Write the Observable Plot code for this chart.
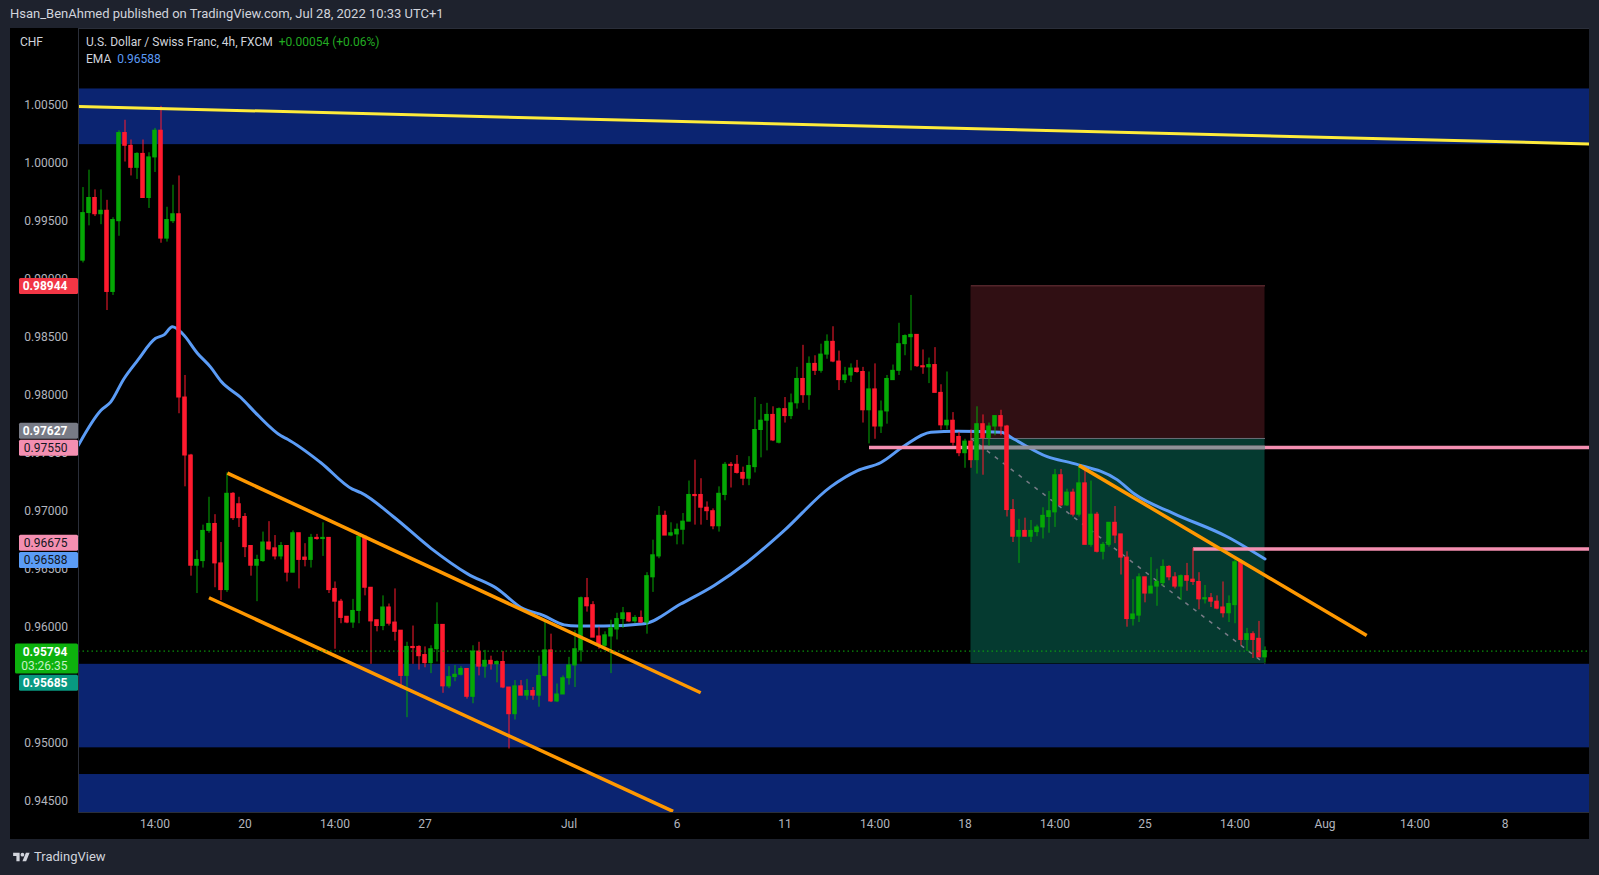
<!DOCTYPE html>
<html><head><meta charset="utf-8">
<script src="https://cdn.jsdelivr.net/npm/d3@7"></script>
<script src="https://cdn.jsdelivr.net/npm/@observablehq/plot@0.6"></script>
<style>
body{margin:0;background:#1e222d;font-family:Roboto,"Noto Sans",sans-serif;}
#wrap{position:relative;width:1599px;height:875px;overflow:hidden;background:#1e222d;}
#hdr{position:absolute;left:10px;top:6px;color:#d1d4dc;font-size:13px;line-height:16px;white-space:nowrap;}
#chart{position:absolute;left:10px;top:28px;width:1579px;height:811px;}
.leg{position:absolute;color:#d1d4dc;font-size:12px;line-height:14px;white-space:nowrap;}
#foot{position:absolute;left:13px;top:849px;color:#d1d4dc;font-size:13px;line-height:16px;display:flex;align-items:center;gap:4px;}
</style></head>
<body>
<div id="wrap">
  <div id="hdr">Hsan_BenAhmed published on TradingView.com, Jul 28, 2022 10:33 UTC+1</div>
  <div id="chart"></div>
  <div class="leg" style="left:20px;top:35px;">CHF</div>
  <div class="leg" style="left:86px;top:35px;">U.S. Dollar / Swiss Franc, 4h, FXCM&nbsp; <span style="color:#22ab22">+0.00054 (+0.06%)</span></div>
  <div class="leg" style="left:86px;top:52px;">EMA&nbsp; <span style="color:#5b9cf6">0.96588</span></div>
  <div id="foot"><svg width="17" height="13" viewBox="0 0 36 28"><path d="M14 22H7V11H0V4h14v18zM28 22h-8l7.5-18h8L28 22z" fill="#d1d4dc"/><circle cx="20" cy="8" r="4" fill="#d1d4dc"/></svg><span>TradingView</span></div>
</div>
<script>
// ---- candle data (4h bars, index -1 .. 197) ----
const firstIndex = -1;
const opens = [
0.9914,0.9916,0.9957,0.9970,0.9956,0.9959,0.9889,0.9950,1.0026,1.0015,
0.9996,1.0008,0.9970,1.0005,1.0028,0.9935,0.9950,0.9956,0.9798,0.9748,
0.9653,0.9657,0.9683,0.9689,0.9655,0.9632,0.9715,0.9706,0.9695,0.9670,
0.9653,0.9657,0.9673,0.9668,0.9661,0.9670,0.9647,0.9681,0.9660,0.9658,
0.9677,0.9676,0.9677,0.9633,0.9622,0.9609,0.9604,0.9614,0.9678,0.9634,
0.9606,0.9601,0.9617,0.9604,0.9597,0.9558,0.9583,0.9583,0.9576,0.9569,
0.9581,0.9602,0.9549,0.9557,0.9559,0.9564,0.9540,0.9579,0.9566,0.9571,
0.9568,0.9570,0.9548,0.9525,0.9549,0.9541,0.9545,0.9541,0.9558,0.9580,
0.9536,0.9542,0.9556,0.9567,0.9580,0.9625,0.9619,0.9592,0.9584,0.9592,
0.9598,0.9607,0.9612,0.9605,0.9608,0.9604,0.9643,0.9661,0.9696,0.9679,
0.9680,0.9684,0.9691,0.9714,0.9714,0.9703,0.9700,0.9687,0.9714,0.9740,
0.9740,0.9733,0.9728,0.9738,0.9770,0.9778,0.9783,0.9759,0.9788,0.9782,
0.9793,0.9814,0.9800,0.9827,0.9821,0.9835,0.9846,0.9829,0.9813,0.9817,
0.9823,0.9820,0.9787,0.9805,0.9773,0.9786,0.9813,0.9821,0.9844,0.9850,
0.9852,0.9825,0.9824,0.9826,0.9802,0.9774,0.9778,0.9764,0.9750,0.9760,
0.9744,0.9775,0.9763,0.9773,0.9782,0.9773,0.9701,0.9678,0.9683,0.9678,
0.9682,0.9686,0.9695,0.9699,0.9731,0.9705,0.9716,0.9697,0.9724,0.9671,
0.9697,0.9665,0.9671,0.9690,0.9680,0.9660,0.9607,0.9610,0.9643,0.9629,
0.9635,0.9638,0.9652,0.9643,0.9635,0.9644,0.9641,0.9639,0.9624,0.9625,
0.9622,0.9617,0.9612,0.9619,0.9656,0.9589,0.9594,0.9590,0.9574];
const highs = [
0.9917,0.9979,0.9994,0.9977,0.9977,0.9968,0.9953,1.0028,1.0037,1.0020,
1.0009,1.0020,1.0009,1.0030,1.0049,0.9962,0.9981,0.9989,0.9817,0.9749,
0.9666,0.9688,0.9712,0.9697,0.9673,0.9733,0.9716,0.9712,0.9698,0.9670,
0.9662,0.9682,0.9691,0.9679,0.9673,0.9670,0.9683,0.9681,0.9672,0.9680,
0.9680,0.9690,0.9677,0.9639,0.9624,0.9609,0.9624,0.9679,0.9678,0.9634,
0.9606,0.9627,0.9620,0.9633,0.9597,0.9587,0.9601,0.9584,0.9583,0.9584,
0.9621,0.9602,0.9566,0.9567,0.9566,0.9564,0.9584,0.9587,0.9580,0.9575,
0.9571,0.9579,0.9548,0.9554,0.9554,0.9555,0.9548,0.9575,0.9606,0.9594,
0.9551,0.9558,0.9574,0.9597,0.9626,0.9642,0.9622,0.9600,0.9596,0.9606,
0.9612,0.9617,0.9612,0.9610,0.9614,0.9647,0.9675,0.9704,0.9700,0.9690,
0.9689,0.9698,0.9726,0.9744,0.9728,0.9708,0.9702,0.9721,0.9742,0.9742,
0.9748,0.9738,0.9747,0.9798,0.9792,0.9793,0.9790,0.9789,0.9798,0.9801,
0.9824,0.9843,0.9833,0.9834,0.9844,0.9852,0.9859,0.9838,0.9824,0.9827,
0.9830,0.9824,0.9820,0.9827,0.9795,0.9817,0.9826,0.9862,0.9852,0.9886,
0.9852,0.9839,0.9832,0.9841,0.9809,0.9820,0.9785,0.9768,0.9762,0.9770,
0.9790,0.9783,0.9776,0.9782,0.9787,0.9774,0.9710,0.9693,0.9694,0.9692,
0.9688,0.9703,0.9717,0.9736,0.9736,0.9719,0.9719,0.9739,0.9735,0.9726,
0.9699,0.9673,0.9690,0.9704,0.9680,0.9665,0.9641,0.9646,0.9643,0.9660,
0.9650,0.9658,0.9653,0.9647,0.9645,0.9655,0.9668,0.9647,0.9636,0.9629,
0.9627,0.9639,0.9627,0.9660,0.9658,0.9599,0.9596,0.9605,0.9583];
const lows = [
0.9913,0.9914,0.9946,0.9954,0.9947,0.9873,0.9886,0.9937,1.0001,0.9989,
0.9986,0.9970,0.9961,0.9992,0.9931,0.9932,0.9948,0.9784,0.9721,0.9644,
0.9629,0.9651,0.9681,0.9634,0.9623,0.9630,0.9692,0.9686,0.9660,0.9644,
0.9622,0.9656,0.9666,0.9658,0.9658,0.9639,0.9647,0.9633,0.9652,0.9651,
0.9675,0.9661,0.9629,0.9581,0.9603,0.9603,0.9599,0.9603,0.9627,0.9568,
0.9596,0.9597,0.9601,0.9588,0.9547,0.9522,0.9568,0.9563,0.9565,0.9560,
0.9570,0.9543,0.9547,0.9553,0.9558,0.9538,0.9534,0.9558,0.9556,0.9563,
0.9552,0.9547,0.9495,0.9520,0.9541,0.9537,0.9537,0.9531,0.9557,0.9535,
0.9535,0.9542,0.9550,0.9548,0.9570,0.9613,0.9591,0.9581,0.9580,0.9560,
0.9589,0.9599,0.9604,0.9603,0.9603,0.9594,0.9630,0.9659,0.9679,0.9678,
0.9671,0.9671,0.9691,0.9688,0.9688,0.9692,0.9684,0.9682,0.9709,0.9720,
0.9732,0.9722,0.9722,0.9733,0.9746,0.9752,0.9760,0.9758,0.9776,0.9779,
0.9788,0.9793,0.9787,0.9817,0.9819,0.9831,0.9828,0.9804,0.9810,0.9811,
0.9819,0.9776,0.9758,0.9762,0.9767,0.9775,0.9813,0.9817,0.9834,0.9821,
0.9824,0.9818,0.9810,0.9802,0.9770,0.9770,0.9756,0.9747,0.9737,0.9737,
0.9732,0.9731,0.9756,0.9765,0.9765,0.9695,0.9673,0.9655,0.9678,0.9673,
0.9678,0.9676,0.9681,0.9686,0.9704,0.9704,0.9695,0.9695,0.9671,0.9669,
0.9664,0.9658,0.9669,0.9672,0.9645,0.9600,0.9601,0.9604,0.9621,0.9629,
0.9618,0.9635,0.9640,0.9633,0.9623,0.9631,0.9636,0.9615,0.9620,0.9617,
0.9615,0.9608,0.9604,0.9603,0.9584,0.9579,0.9573,0.9574,0.9569];
const closes = [
0.9916,0.9957,0.9970,0.9956,0.9959,0.9889,0.9951,1.0026,1.0015,0.9996,
1.0008,0.9970,1.0005,1.0028,0.9935,0.9951,0.9956,0.9798,0.9748,0.9653,
0.9658,0.9683,0.9689,0.9655,0.9632,0.9715,0.9694,0.9694,0.9669,0.9653,
0.9658,0.9673,0.9667,0.9661,0.9670,0.9647,0.9681,0.9658,0.9658,0.9677,
0.9676,0.9677,0.9632,0.9622,0.9608,0.9604,0.9614,0.9678,0.9634,0.9605,
0.9601,0.9617,0.9603,0.9596,0.9558,0.9583,0.9582,0.9575,0.9569,0.9581,
0.9602,0.9549,0.9557,0.9559,0.9564,0.9540,0.9579,0.9566,0.9571,0.9568,
0.9570,0.9548,0.9525,0.9549,0.9541,0.9545,0.9541,0.9558,0.9580,0.9536,
0.9542,0.9556,0.9567,0.9581,0.9625,0.9618,0.9591,0.9584,0.9593,0.9599,
0.9607,0.9612,0.9605,0.9608,0.9604,0.9644,0.9662,0.9696,0.9679,0.9681,
0.9684,0.9691,0.9714,0.9713,0.9703,0.9700,0.9687,0.9715,0.9740,0.9739,
0.9733,0.9728,0.9739,0.9770,0.9778,0.9783,0.9761,0.9788,0.9782,0.9793,
0.9814,0.9800,0.9827,0.9821,0.9835,0.9846,0.9829,0.9813,0.9817,0.9823,
0.9820,0.9787,0.9805,0.9773,0.9786,0.9814,0.9821,0.9844,0.9851,0.9852,
0.9825,0.9824,0.9826,0.9802,0.9774,0.9778,0.9759,0.9750,0.9760,0.9744,
0.9775,0.9763,0.9773,0.9782,0.9773,0.9701,0.9678,0.9683,0.9678,0.9683,
0.9686,0.9696,0.9700,0.9731,0.9705,0.9716,0.9697,0.9724,0.9671,0.9697,
0.9665,0.9671,0.9690,0.9679,0.9660,0.9607,0.9611,0.9643,0.9629,0.9635,
0.9639,0.9652,0.9643,0.9635,0.9644,0.9640,0.9639,0.9624,0.9625,0.9622,
0.9616,0.9612,0.9620,0.9656,0.9589,0.9594,0.9589,0.9574,0.95794];

// ---- EMA ----
const emaIdx = [-0.75,3,4.6,6.8,9.1,12.1,13.5,14.9,16.6,19.1,21.3,23,26.3,29.1,33,34.1,39.6,44.9,46.3,51.8,58,64.1,69.1,73,76.8,80.2,82.4,86.8,93.5,99.6,105.2,110.7,116.8,124.6,129.1,133,136.8,141.3,145.7,153,155.2,160.7,165.2,172.4,175.2,181.8,190.7,197];
const emaVals = [0.9757,0.9787,0.9794,0.9814,0.9830,0.9849,0.9852,0.9859,0.9853,0.9836,0.9824,0.9812,0.9798,0.9783,0.9765,0.9762,0.9742,0.9719,0.9716,0.9695,0.9668,0.9646,0.9633,0.9617,0.9610,0.9602,0.9601,0.9601,0.9603,0.9620,0.9636,0.9656,0.9683,0.9721,0.9735,0.9742,0.9756,0.9768,0.9769,0.9768,0.9762,0.9747,0.9741,0.9727,0.9715,0.9698,0.9678,0.96588];

// ---- axis ticks ----
const yTicks = [0.945,0.95,0.955,0.96,0.965,0.97,0.975,0.98,0.985,0.99,0.995,1.0,1.005];
const xTickPos = [12,27,42,57,81,99,117,132,147,162,177,192,207,222,237];
const xTickLabels = ["14:00","20","14:00","27","Jul","6","11","14:00","18","14:00","25","14:00","Aug","14:00","8"];

// ---- zones (blue rectangles) ----
const zoneTop = [1.0064, 0.9568, 0.9473];
const zoneBottom = [1.0016, 0.9496, 0.9440];

// ---- trend lines ----
const yellowLine = [{x1:-0.75, y1:1.00489, x2:251.08, y2:1.00166}];
const orangeLines = [
  {x1:24.07, y1:0.97328, x2:102.95, y2:0.95435},
  {x1:21.0, y1:0.96254, x2:98.35, y2:0.94412},
  {x1:166.0, y1:0.97395, x2:213.95, y2:0.95929}
];
const pinkLevels = [0.97550, 0.96675];
const pinkStarts = [131, 185];
const lineEnd = 251.08;

// ---- short position tool ----
const posStart = 148, posEnd = 197;
const posEntry = 0.97627, posStop = 0.98944, posTarget = 0.95685;
const lastPrice = 0.95794;

// ---- price tags ----
const tagPrices = [0.98944, 0.97627, 0.97550, 0.96675, 0.96588, 0.95685, 0.95794];
const tagColors = ["#f23645","#787b86","#f48fb1","#f48fb1","#5b9cf6","#089981","#0db10d"];
const tagText   = ["#ffffff","#ffffff","#131722","#131722","#131722","#ffffff","#ffffff"];
const tagShift  = [0.8, -7.3, 0.8, -5.7, 1.5, 19.5, 1];
const tagWidth  = [59, 59, 59, 59, 59, 59, 63];
const countdown = "03:26:35";

const candles = opens.map((o, k) => ({i: firstIndex + k, o, h: highs[k], l: lows[k], c: closes[k]}));
const upC = candles.filter(d => d.c >= d.o);
const dnC = candles.filter(d => d.c < d.o);
const UP = "#05a805", DN = "#ff1a2e";
const ema = emaIdx.map((x, k) => ({x, y: emaVals[k]}));
const zones = zoneTop.map((t, k) => ({t, b: zoneBottom[k]}));
const pinks = pinkLevels.map((p, k) => ({p, s: pinkStarts[k]}));
const xLabel = new Map(xTickPos.map((p, k) => [p, xTickLabels[k]]));

function tagsMark(index, scales, values, dimensions) {
  const g = d3.create("svg:g").attr("font-size", 12).attr("font-family", "Roboto, sans-serif");
  const ml = dimensions.marginLeft;
  tagPrices.forEach((p, k) => {
    const yc = scales.y(p) + tagShift[k];
    const isLast = p === lastPrice;
    const h = isLast ? 30 : 16;
    g.append("rect").attr("x", ml - tagWidth[k]).attr("y", yc - 8).attr("width", tagWidth[k]).attr("height", h)
      .attr("fill", tagColors[k]).attr("rx", 1.5);
    g.append("text").attr("x", ml - 10.5).attr("y", yc).attr("dy", "0.35em").attr("text-anchor", "end")
      .attr("fill", tagText[k]).attr("font-weight", tagText[k] === "#ffffff" ? "bold" : null).text(d3.format(".5f")(p));
    if (isLast) {
      g.append("text").attr("x", ml - 10.5).attr("y", yc + 14).attr("dy", "0.35em").attr("text-anchor", "end")
        .attr("fill", "#c4f2c4").text(countdown);
    }
  });
  return g.node();
}

const chart = Plot.plot({
  width: 1579, height: 811,
  marginLeft: 68, marginRight: 0, marginTop: 0, marginBottom: 27,
  style: {background: "#000000", color: "#b2b5be", fontFamily: "Roboto, sans-serif", fontSize: "12px"},
  x: {type: "linear", domain: [-0.75, 251.0833], axis: null},
  y: {type: "linear", domain: [0.944026, 1.011612], axis: null},
  marks: [
    Plot.rect(zones, {y1: "t", y2: "b", fill: "#0b2471", clip: true}),
    // position tool
    Plot.rect([0], {x1: () => posStart, x2: () => posEnd, y1: () => posEntry, y2: () => posStop, fill: "#300f13"}),
    Plot.rect([0], {x1: () => posStart, x2: () => posEnd, y1: () => posTarget, y2: () => posEntry, fill: "#053a30"}),
    Plot.link([0], {x1: () => posStart, x2: () => posEnd, y1: () => posStop, y2: () => posStop, stroke: "#52252a", strokeWidth: 1.5}),
    Plot.link([0], {x1: () => posStart, x2: () => posEnd, y1: () => posEntry, y2: () => posEntry, stroke: "#6b6e78", strokeWidth: 1}),
    Plot.link([0], {x1: () => posStart, y1: () => posEntry, x2: () => posEnd, y2: () => posTarget, stroke: "#787b86", strokeWidth: 1.5, strokeDasharray: "4,6"}),
    // EMA
    Plot.line(ema, {x: "x", y: "y", stroke: "#5b9cf6", strokeWidth: 3, curve: "monotone-x", clip: true}),
    // pink levels
    Plot.link(pinks, {x1: "s", x2: () => lineEnd, y1: "p", y2: "p", stroke: "#f48fb1", strokeWidth: 3.5, clip: true}),
    Plot.link([0], {x1: () => posStart, x2: () => posEnd, y1: () => pinkLevels[0], y2: () => pinkLevels[0], stroke: "#8f9197", strokeWidth: 3.5}),
    // candles
    Plot.ruleX(upC, {x: "i", y1: "l", y2: "h", stroke: UP, strokeWidth: 1, clip: true}),
    Plot.ruleX(dnC, {x: "i", y1: "l", y2: "h", stroke: DN, strokeWidth: 1, clip: true}),
    Plot.rect(upC, {x1: d => d.i - 0.38, x2: d => d.i + 0.38, y1: "o", y2: "c", fill: UP, insetTop: -0.5, insetBottom: -0.5, clip: true}),
    Plot.rect(dnC, {x1: d => d.i - 0.38, x2: d => d.i + 0.38, y1: "o", y2: "c", fill: DN, insetTop: -0.5, insetBottom: -0.5, clip: true}),
    // trend lines
    Plot.link(yellowLine, {x1: "x1", y1: "y1", x2: "x2", y2: "y2", stroke: "#ffeb3b", strokeWidth: 3, clip: true}),
    Plot.link(orangeLines, {x1: "x1", y1: "y1", x2: "x2", y2: "y2", stroke: "#ff9800", strokeWidth: 3.5, clip: true}),
    // last price line
    Plot.ruleY([lastPrice], {stroke: "#0db10d", strokeWidth: 1, strokeDasharray: "1.5,3"}),
    // axes
    Plot.frame({stroke: "#2a2e39"}),
    Plot.axisY(yTicks, {anchor: "left", tickSize: 0, tickPadding: 10.5, tickFormat: d3.format(".5f"), fill: "#b2b5be", fontSize: 12}),
    Plot.axisX(xTickPos, {anchor: "bottom", tickSize: 0, tickPadding: 7, tickFormat: d => xLabel.get(d), fill: "#b2b5be", fontSize: 12}),
    tagsMark
  ]
});
document.getElementById("chart").appendChild(chart);
</script>
</body></html>
